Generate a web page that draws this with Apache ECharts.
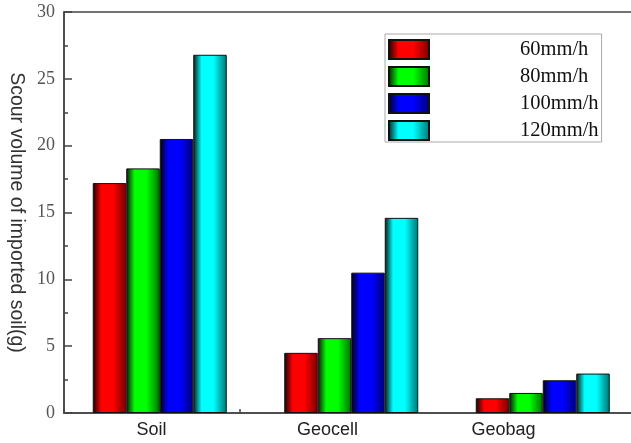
<!DOCTYPE html>
<html><head><meta charset="utf-8">
<script src="https://cdn.jsdelivr.net/npm/echarts@6/dist/echarts.min.js"></script>
<style>html,body{margin:0;padding:0;overflow:hidden;background:#fff;width:631px;height:443px}#c{width:640px;height:443px}</style>
</head><body><div id="c"></div>
<script>
const categories = ['Soil', 'Geocell', 'Geobag'];
const seriesNames = ['60mm/h', '80mm/h', '100mm/h', '120mm/h'];
const rain60 = [17.2, 4.5, 1.1];
const rain80 = [18.3, 5.6, 1.5];
const rain100 = [20.5, 10.5, 2.45];
const rain120 = [26.8, 14.6, 2.95];
const yTicks = [0, 5, 10, 15, 20, 25, 30];

const values = [rain60, rain80, rain100, rain120];
const bright = ['#ff0000', '#00ff00', '#0000ff', '#00ffff'];
const dark = ['#1a0000', '#001a00', '#00001a', '#001a1a'];
const mid = ['#700000', '#007000', '#000070', '#007070'];

function grad(i) {
  return new echarts.graphic.LinearGradient(0, 0, 1, 0, [
    {offset: 0, color: dark[i]},
    {offset: 0.25, color: bright[i]},
    {offset: 0.6, color: bright[i]},
    {offset: 1, color: mid[i]}
  ]);
}

const chart = echarts.init(document.getElementById('c'));
chart.setOption({
  animation: false,
  grid: [
    {left: 64, top: 12, right: 1.5, bottom: 30, show: true, borderColor: '#444', borderWidth: 1.5, containLabel: false, outerBoundsMode: 'none'},
    {left: 63.5, top: 12, width: 528, bottom: 30, containLabel: false, outerBoundsMode: 'none'}
  ],
  legend: {
    orient: 'vertical', left: 385, top: 34,
    padding: [5, 3, 1, 3],
    itemWidth: 40, itemHeight: 19, itemGap: 6, icon: 'rect',
    borderColor: '#aaa', borderWidth: 1,
    data: seriesNames,
    formatter: n => '{a|' + n + '}',
    textStyle: {rich: {a: {padding: [0, 0, 0, 86], fontFamily: 'Liberation Serif', fontSize: 20.5, color: '#111'}}}
  },
  xAxis: [{
    type: 'category', data: categories, position: 'bottom', gridIndex: 0,
    axisLine: {lineStyle: {color: '#444', width: 1.5}},
    axisTick: {show: false},
    axisLabel: {show: false}
  }, {
    type: 'category', data: categories, position: 'bottom', gridIndex: 1,
    axisLine: {show: false},
    axisTick: {show: true, inside: true, length: 4, lineStyle: {color: '#444', width: 1.5}},
    axisLabel: {fontFamily: 'Liberation Sans', fontSize: 18, color: '#222', margin: 8}
  }],
  yAxis: [{
    type: 'value', min: 0, max: 30, interval: 5, gridIndex: 0,
    name: 'Scour volume of imported soil(g)', nameLocation: 'middle', nameRotate: -90, nameGap: 36,
    nameTextStyle: {fontFamily: 'Liberation Sans', fontSize: 19.5, color: '#333', padding: [0, 0, 24, 0]},
    axisLine: {show: true, lineStyle: {color: '#444', width: 1.5}},
    axisTick: {show: true, inside: true, length: 8, lineStyle: {color: '#444', width: 1.5}},
    minorTick: {show: true, splitNumber: 2, length: 4, lineStyle: {color: '#444', width: 1.5}},
    splitLine: {show: false},
    axisLabel: {fontFamily: 'Liberation Serif', fontSize: 18, color: '#555', margin: 9,
      formatter: v => yTicks.includes(v) ? String(v) : ''}
  }, {
    type: 'value', min: 0, max: 30, gridIndex: 1, show: false
  }],
  series: seriesNames.map((n, i) => ({
    name: n, type: 'bar', data: values[i], barWidth: 33.5, barGap: '0%',
    xAxisIndex: 0, yAxisIndex: 0,
    itemStyle: {color: grad(i), borderColor: '#111', borderWidth: 1}
  }))
});
</script></body></html>
